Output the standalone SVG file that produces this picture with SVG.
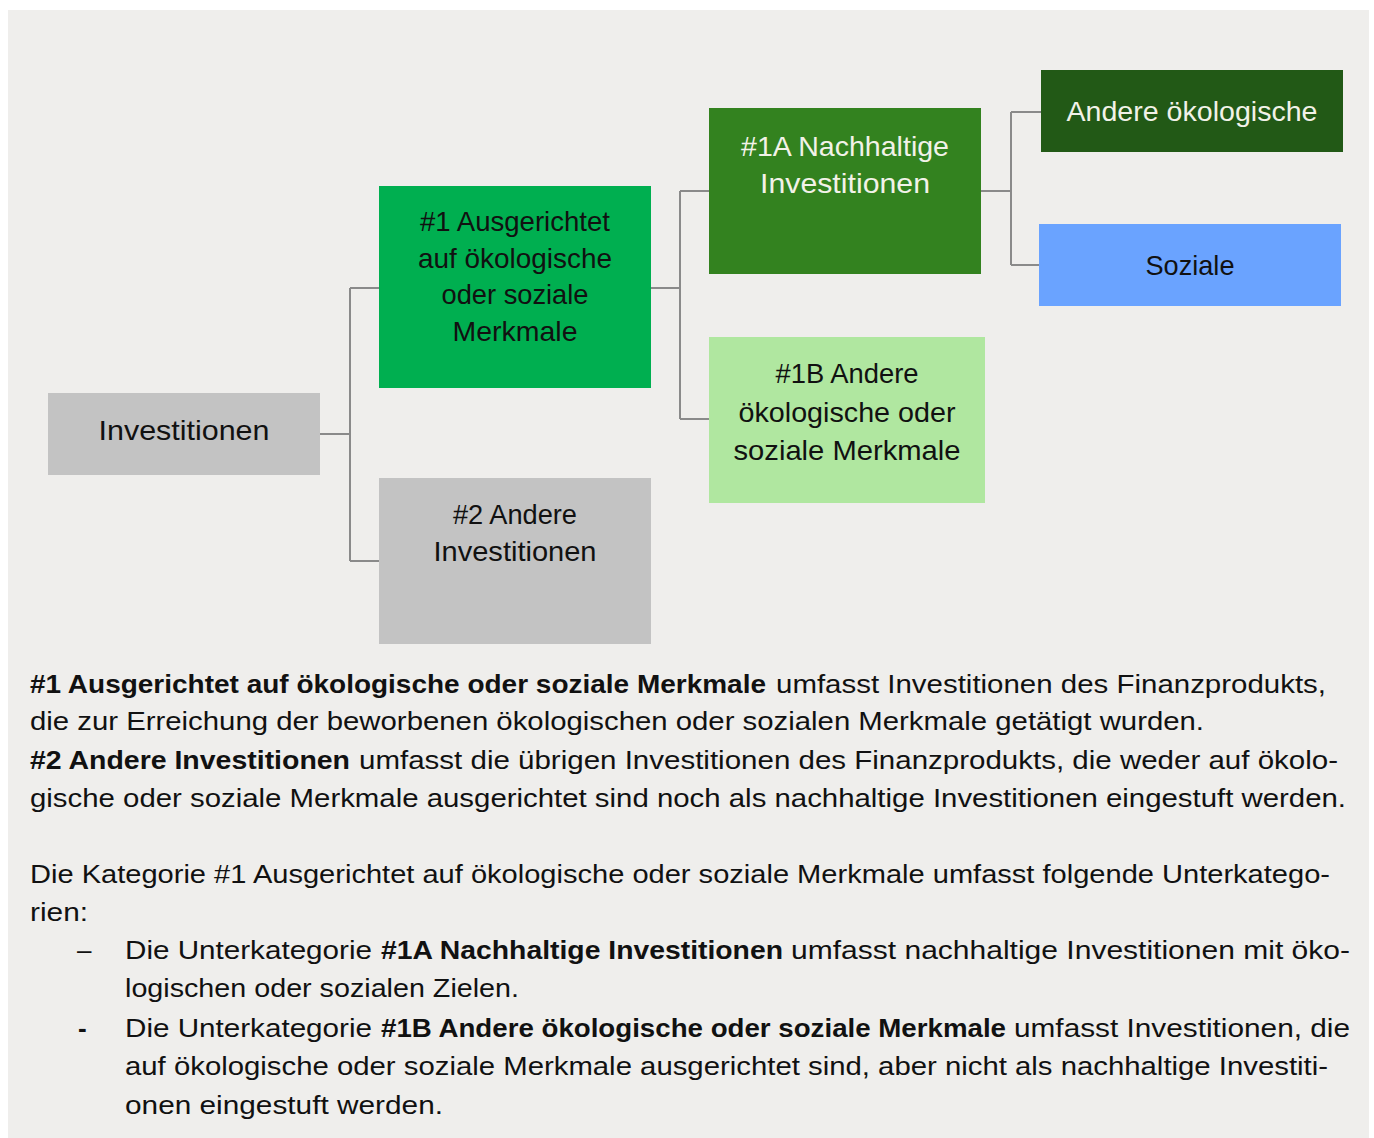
<svg xmlns="http://www.w3.org/2000/svg" width="1374" height="1138" viewBox="0 0 1374 1138">
<style>
.bx{font-family:"Liberation Sans",Arial,sans-serif;font-size:28px;text-anchor:middle;fill:#111}
.wt{fill:#f2f2e8}
.bd{font-family:"Liberation Sans",Arial,sans-serif;font-size:26px;fill:#111}
.b{font-weight:bold}
.con{fill:none;stroke:#8a8a8a;stroke-width:2}
</style>
<rect x="0" y="0" width="1374" height="1138" fill="#ffffff"/>
<rect x="8" y="10" width="1361" height="1128" fill="#efeeec"/>
<g id="connectors">
<path class="con" d="M320,434 H350 M350,288 V561 M350,288 H379 M350,561 H379"/>
<path class="con" d="M651,288 H680 M680,191 V419 M680,191 H709 M680,419 H709"/>
<path class="con" d="M981,191 H1011 M1011,112 V265 M1011,112 H1041 M1011,265 H1039"/>
</g>
<g id="node-investitionen">
<rect x="48" y="393" width="272" height="82" fill="#c3c3c3"/>
<text class="bx" x="184" y="440" textLength="171" lengthAdjust="spacingAndGlyphs">Investitionen</text>
</g>
<g id="node-1">
<rect x="379" y="186" width="272" height="202" fill="#00af50"/>
<text class="bx" x="515" y="231" textLength="190" lengthAdjust="spacingAndGlyphs">#1 Ausgerichtet</text>
<text class="bx" x="515" y="268" textLength="194" lengthAdjust="spacingAndGlyphs">auf ökologische</text>
<text class="bx" x="515" y="304" textLength="147" lengthAdjust="spacingAndGlyphs">oder soziale</text>
<text class="bx" x="515" y="341" textLength="125" lengthAdjust="spacingAndGlyphs">Merkmale</text>
</g>
<g id="node-2">
<rect x="379" y="478" width="272" height="166" fill="#c3c3c3"/>
<text class="bx" x="515" y="524" textLength="124" lengthAdjust="spacingAndGlyphs">#2 Andere</text>
<text class="bx" x="515" y="561" textLength="163" lengthAdjust="spacingAndGlyphs">Investitionen</text>
</g>
<g id="node-1a">
<rect x="709" y="108" width="272" height="166" fill="#33821f"/>
<text class="bx wt" x="845" y="156" textLength="208" lengthAdjust="spacingAndGlyphs">#1A Nachhaltige</text>
<text class="bx wt" x="845" y="193" textLength="170" lengthAdjust="spacingAndGlyphs">Investitionen</text>
</g>
<g id="node-1b">
<rect x="709" y="337" width="276" height="166" fill="#b0e7a0"/>
<text class="bx" x="847" y="383" textLength="143" lengthAdjust="spacingAndGlyphs">#1B Andere</text>
<text class="bx" x="847" y="422" textLength="217" lengthAdjust="spacingAndGlyphs">ökologische oder</text>
<text class="bx" x="847" y="460" textLength="227" lengthAdjust="spacingAndGlyphs">soziale Merkmale</text>
</g>
<g id="node-andere">
<rect x="1041" y="70" width="302" height="82" fill="#225916"/>
<text class="bx wt" x="1192" y="121" textLength="251" lengthAdjust="spacingAndGlyphs">Andere ökologische</text>
</g>
<g id="node-soziale">
<rect x="1039" y="224" width="302" height="82" fill="#6aa3ff"/>
<text class="bx" x="1190" y="275" textLength="89" lengthAdjust="spacingAndGlyphs">Soziale</text>
</g>
<g id="legend">
<text class="bd b" x="30" y="693" textLength="736" lengthAdjust="spacingAndGlyphs">#1 Ausgerichtet auf ökologische oder soziale Merkmale</text>
<text class="bd" x="776" y="693" textLength="550" lengthAdjust="spacingAndGlyphs">umfasst Investitionen des Finanzprodukts,</text>
<text class="bd" x="30" y="730" textLength="1174" lengthAdjust="spacingAndGlyphs">die zur Erreichung der beworbenen ökologischen oder sozialen Merkmale getätigt wurden.</text>
<text class="bd b" x="30" y="769" textLength="320" lengthAdjust="spacingAndGlyphs">#2 Andere Investitionen</text>
<text class="bd" x="359" y="769" textLength="979" lengthAdjust="spacingAndGlyphs">umfasst die übrigen Investitionen des Finanzprodukts, die weder auf ökolo-</text>
<text class="bd" x="30" y="807" textLength="1316" lengthAdjust="spacingAndGlyphs">gische oder soziale Merkmale ausgerichtet sind noch als nachhaltige Investitionen eingestuft werden.</text>
<text class="bd" x="30" y="883" textLength="1300" lengthAdjust="spacingAndGlyphs">Die Kategorie #1 Ausgerichtet auf ökologische oder soziale Merkmale umfasst folgende Unterkatego-</text>
<text class="bd" x="30" y="921" textLength="58" lengthAdjust="spacingAndGlyphs">rien:</text>
<text class="bd" x="77" y="959">–</text>
<text class="bd" x="125" y="959" textLength="247" lengthAdjust="spacingAndGlyphs">Die Unterkategorie</text>
<text class="bd b" x="381" y="959" textLength="402" lengthAdjust="spacingAndGlyphs">#1A Nachhaltige Investitionen</text>
<text class="bd" x="791" y="959" textLength="559" lengthAdjust="spacingAndGlyphs">umfasst nachhaltige Investitionen mit öko-</text>
<text class="bd" x="125" y="997" textLength="394" lengthAdjust="spacingAndGlyphs">logischen oder sozialen Zielen.</text>
<text class="bd b" x="78" y="1037">-</text>
<text class="bd" x="125" y="1037" textLength="247" lengthAdjust="spacingAndGlyphs">Die Unterkategorie</text>
<text class="bd b" x="381" y="1037" textLength="625" lengthAdjust="spacingAndGlyphs">#1B Andere ökologische oder soziale Merkmale</text>
<text class="bd" x="1014" y="1037" textLength="336" lengthAdjust="spacingAndGlyphs">umfasst Investitionen, die</text>
<text class="bd" x="125" y="1075" textLength="1203" lengthAdjust="spacingAndGlyphs">auf ökologische oder soziale Merkmale ausgerichtet sind, aber nicht als nachhaltige Investiti-</text>
<text class="bd" x="125" y="1114" textLength="318" lengthAdjust="spacingAndGlyphs">onen eingestuft werden.</text>
</g>
</svg>
